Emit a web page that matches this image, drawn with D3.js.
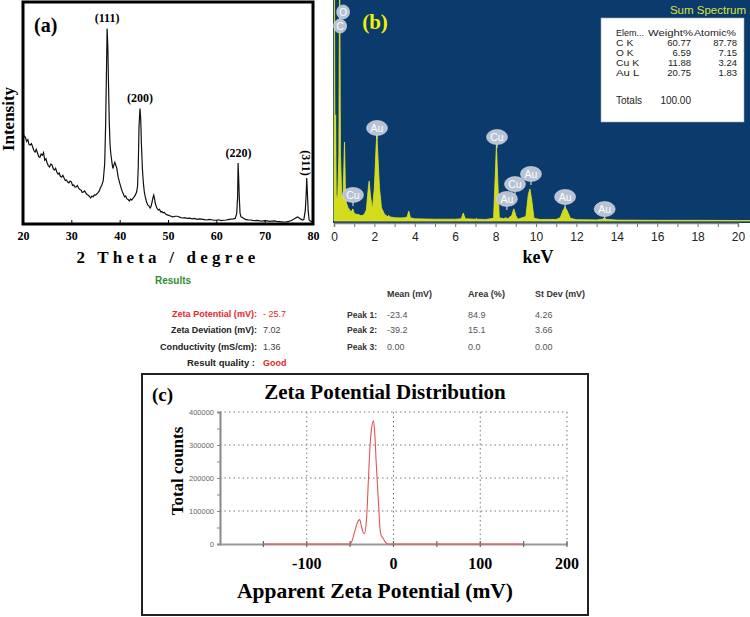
<!DOCTYPE html>
<html><head><meta charset="utf-8">
<script src="https://cdn.jsdelivr.net/npm/d3@7"></script>
<style>body{margin:0;background:#fff}svg{display:block}</style>
</head><body>
<script>
// ---------- Panel (a) XRD ----------
const xrdTicks = [20,30,40,50,60,70,80];
const xrdTheta = [20,20.25,20.5,20.75,21,21.25,21.5,21.75,22,22.25,22.5,22.75,23,23.25,23.5,23.75,24,24.25,24.5,24.75,25,25.25,25.5,25.75,26,26.25,26.5,26.75,27,27.25,27.5,27.75,28,28.25,28.5,28.75,29,29.25,29.5,29.75,30,30.25,30.5,30.75,31,31.25,31.5,31.75,32,32.25,32.5,32.75,33,33.25,33.5,33.75,34,34.25,34.5,34.75,35,35.25,35.5,35.75,36,36.3,36.6,36.9,37.1,37.25,37.4,37.55,37.7,37.85,38,38.15,38.3,38.45,38.6,38.8,39,39.2,39.4,39.7,40,40.25,40.5,40.75,41,41.25,41.5,41.75,42,42.25,42.5,42.75,43,43.25,43.5,43.7,43.85,44,44.2,44.35,44.5,44.7,44.9,45.1,45.3,45.55,45.8,46.05,46.3,46.5,46.7,46.9,47.05,47.2,47.4,47.7,48,48.25,48.5,48.75,49,49.25,49.5,49.75,50,50.5,51,51.5,52,52.5,53,53.5,54,54.5,55,55.5,56,56.5,57,57.5,58,58.5,59,59.5,60,60.5,61,61.5,62,62.5,63,63.5,63.9,64.2,64.4,64.5,64.6,64.75,64.9,65.1,65.4,65.7,66,66.5,67,67.5,68,68.5,69,69.5,70,70.5,71,71.5,72,72.5,73,73.5,74,74.5,75,75.5,76,76.4,76.8,77.1,77.4,77.8,78.1,78.4,78.6,78.7,78.8,79,79.2,79.5,79.8,80];
const xrdInt = [41.4,39.5,39.0,37.2,38.0,35.8,35.6,36.2,34.7,33.1,32.4,33.6,32.0,30.4,30.0,31.5,31.0,32.2,28.8,29.4,27.5,26.2,25.7,27.0,26.6,24.9,24.3,25.1,23.4,22.5,23.0,21.4,21.2,21.9,20.7,19.6,19.8,18.9,18.5,19.3,19.0,17.4,17.6,16.6,16.7,17.3,16.2,15.5,15.3,14.2,14.4,14.9,14.0,13.3,13.0,12.4,11.7,12.6,12.2,13.1,13.0,13.5,14.0,14.8,16.2,17.5,19.5,27.0,45.0,66.0,88.0,80.0,62.0,46.0,36.0,32.0,29.5,27.0,25.0,26.5,27.8,26.5,25.2,21.0,18.5,16.6,14.8,13.6,12.2,12.6,11.3,11.0,10.4,11.2,10.8,11.6,12.2,13.1,14.4,17.0,26.0,43.7,52.0,47.5,36.0,25.0,18.5,14.5,12.2,10.0,8.6,8.2,7.2,8.0,9.9,12.0,13.0,11.5,9.0,7.2,6.3,6.6,5.4,5.6,5.0,5.2,4.5,4.2,4.0,3.6,3.2,3.5,3.5,3.0,2.7,2.9,2.5,2.6,2.3,2.5,2.1,2.3,2.2,2.0,1.8,2.1,1.9,1.7,1.7,1.9,1.5,1.7,1.8,2.0,2.2,2.3,2.5,4.5,12.0,27.5,22.0,12.0,5.0,3.2,2.9,2.5,2.1,1.9,1.8,1.6,1.5,1.6,1.4,1.3,1.5,1.4,1.2,1.3,1.4,1.2,1.1,1.0,0.9,1.0,1.2,1.6,2.1,2.7,3.2,2.8,2.3,1.8,2.0,6.0,14.0,20.7,16.0,6.0,1.8,1.3,1.0,0.7];
const xrdPeakLabels = ["(111)","(200)","(220)","(311)"];
const xrdPeakTheta = [37.4,44.2,64.6,78.7];
const xrdPeakLabelInt = [91,55,30,18];

// ---------- Panel (b) EDS ----------
const edsTicks = [0,2,4,6,8,10,12,14,16,18,20];
const edsKeV = [0,0.02,0.05,0.08,0.11,0.18,0.24,0.28,0.32,0.38,0.45,0.52,0.57,0.62,0.7,0.78,0.85,0.93,1.0,1.1,1.2,1.3,1.4,1.5,1.6,1.7,1.74,1.8,1.9,2.0,2.08,2.12,2.17,2.25,2.35,2.5,2.65,2.7,2.8,3.0,3.3,3.5,3.62,3.7,3.78,4.0,4.5,5.0,5.5,6.0,6.3,6.4,6.5,7.0,7.05,7.1,7.5,7.9,7.98,8.04,8.1,8.18,8.4,8.5,8.6,8.8,8.9,9.0,9.1,9.5,9.62,9.7,9.78,9.9,10.2,11.0,11.2,11.35,11.44,11.55,11.7,12.0,13.0,13.3,13.38,13.46,14,16,18,20.6];
const edsCounts = [0,1200,300,480,120,90,300,1200,300,120,110,357,130,80,60,50,40,55,35,30,30,25,25,30,50,150,181,120,50,150,330,398,300,150,60,30,20,25,18,15,14,15,18,45,15,10,9,8,8,8,10,36,10,8,12,8,7,12,200,345,200,15,10,15,10,25,55,25,8,20,120,145,100,12,7,7,15,50,63,45,12,6,5,8,14,8,4,3,3,2];
const badgeEl = ["O","C","Au","Cu","Cu","Au","Cu","Au","Au","Au"];
const badgeKeV = [0.45,0.3,2.13,8.07,0.94,8.56,8.96,9.75,11.44,13.4];
const badgeCounts = [946,882,421,380,118,100,167,213,109,54];
const tableHead = ["Elem...","Weight%","Atomic%"];
const tableElem = ["C K","O K","Cu K","Au L"];
const tableWeight = ["60.77","6.59","11.88","20.75"];
const tableAtomic = ["87.78","7.15","3.24","1.83"];
const tableTotal = ["Totals","100.00"];

// ---------- Results ----------
const resLabels = ["Zeta Potential (mV):","Zeta Deviation (mV):","Conductivity (mS/cm):","Result quality :"];
const resValues = ["- 25.7","7.02","1.36","Good"];
const peakHead = ["Mean (mV)","Area (%)","St Dev (mV)"];
const peakNames = ["Peak 1:","Peak 2:","Peak 3:"];
const peakMean = ["-23.4","-39.2","0.00"];
const peakArea = ["84.9","15.1","0.0"];
const peakSd = ["4.26","3.66","0.00"];

// ---------- Panel (c) Zeta ----------
const zetaTicks = [-100,0,100,200];
const zetaYTicks = [0,100000,200000,300000,400000];
const zetaMV = [-150,-50,-48,-45,-42,-39,-37,-35,-33.5,-31,-29,-27,-25.5,-23,-21.5,-20,-18.5,-17,-15.5,-14,-12,-10,-8,-6,150];
const zetaCounts = [0,0,8000,35000,62000,74000,55000,35000,32000,80000,190000,300000,345000,373000,330000,250000,180000,110000,45000,25000,18000,8000,2000,0,0];

const serif = "'Liberation Serif','Times New Roman',serif";
const sans = "'Liberation Sans',Arial,sans-serif";

const svg = d3.select("body").append("svg").attr("width",750).attr("height",617);

// ===== Panel (a) =====
{
  const x = d3.scaleLinear().domain([20,80]).range([23,313]);
  const y = d3.scaleLinear().domain([0,100]).range([224,2]);
  const g = svg.append("g");
  const data = xrdTheta.map((t,i)=>[t,xrdInt[i]]);
  g.append("path").datum(data)
    .attr("d", d3.line().x(d=>x(d[0])).y(d=>y(d[1])))
    .attr("fill","none").attr("stroke","#111").attr("stroke-width",1.2);
  g.append("rect").attr("x",23).attr("y",2).attr("width",290).attr("height",222)
    .attr("fill","none").attr("stroke","#000").attr("stroke-width",3);
  const ax = g.append("g").attr("transform","translate(0,224)")
    .call(d3.axisBottom(x).tickValues(xrdTicks).tickSize(-4).tickPadding(7).tickFormat(d3.format("d")));
  ax.select(".domain").remove();
  ax.selectAll("text").attr("font-family",serif).attr("font-weight","bold").attr("font-size",12).attr("fill","#000");
  g.append("text").attr("x",168).attr("y",263).attr("text-anchor","middle")
    .attr("font-family",serif).attr("font-weight","bold").attr("font-size",17).attr("letter-spacing",4.2)
    .text("2 Theta / degree");
  g.append("text").attr("transform","translate(14,119) rotate(-90)").attr("text-anchor","middle")
    .attr("font-family",serif).attr("font-weight","bold").attr("font-size",17).text("Intensity");
  g.append("text").attr("x",34).attr("y",32).attr("font-family",serif).attr("font-weight","bold")
    .attr("font-size",20).text("(a)");
  xrdPeakLabels.forEach((lab,i)=>{
    const t = g.append("text").attr("font-family",serif).attr("font-weight","bold").attr("font-size",12);
    if(i===3){
      t.attr("transform",`translate(${x(xrdPeakTheta[i])-5},${y(xrdPeakLabelInt[i])-21}) rotate(90)`)
       .attr("text-anchor","middle").text(lab);
    } else {
      t.attr("x",x(xrdPeakTheta[i])).attr("y",y(xrdPeakLabelInt[i])).attr("text-anchor","middle").text(lab);
    }
  });
}

// ===== Panel (b) =====
{
  const x = d3.scaleLinear().domain([0,20]).range([334,738]);
  const y = d3.scaleLinear().domain([0,1000]).range([221,0]);
  const g = svg.append("g");
  g.append("rect").attr("x",333).attr("y",0).attr("width",417).attr("height",223).attr("fill","#0b3a6d");
  svg.append("clipPath").attr("id","clipb").append("rect").attr("x",333).attr("y",0).attr("width",417).attr("height",223);
  const data = edsKeV.map((k,i)=>[k,edsCounts[i]]);
  g.append("path").datum(data).attr("clip-path","url(#clipb)")
    .attr("d", d3.area().x(d=>x(d[0])).y0(y(0)).y1(d=>y(d[1])))
    .attr("fill","#d2dc1c").attr("stroke","#dde62a").attr("stroke-width",0.8);
  const ax = g.append("g").attr("transform","translate(0,223)")
    .call(d3.axisBottom(x).tickValues(d3.range(0,21,1)).tickSize(4).tickFormat(d=>d%2===0?d:""));
  ax.select(".domain").attr("stroke","#888").attr("stroke-width",1.5);
  ax.selectAll(".tick line").attr("stroke","#777");
  ax.selectAll("text").attr("font-family",sans).attr("font-size",12).attr("fill","#222").attr("dy","0.9em");
  g.append("text").attr("x",538).attr("y",263).attr("text-anchor","middle").attr("font-family",serif)
    .attr("font-weight","bold").attr("font-size",18).text("keV");
  g.append("text").attr("x",375).attr("y",29).attr("text-anchor","middle").attr("font-family",serif)
    .attr("font-weight","bold").attr("font-size",21).attr("fill","#f2f200").text("(b)");
  g.append("text").attr("x",746).attr("y",14).attr("text-anchor","end").attr("font-family",sans)
    .attr("font-size",11.5).attr("fill","#dde23a").text("Sum Spectrum");
  // badges
  badgeEl.forEach((el,i)=>{
    const cx = x(badgeKeV[i]), cy = y(badgeCounts[i]);
    const small = el.length===1;
    if(!small) g.append("line").attr("x1",cx).attr("x2",cx).attr("y1",cy+6).attr("y2",cy+11)
      .attr("stroke","#c5cede").attr("stroke-width",1.2);
    g.append("ellipse").attr("cx",cx).attr("cy",cy).attr("rx",small?6.5:10.5).attr("ry",small?7:7.5)
      .attr("fill","#b7c2d3").attr("stroke","#d6dde8").attr("stroke-width",0.6);
    g.append("text").attr("x",cx).attr("y",cy+3.8).attr("text-anchor","middle").attr("font-family",sans)
      .attr("font-size",small?10:10.5).attr("fill","#fff").text(el);
  });
  // table
  const tg = g.append("g").attr("font-family",sans).attr("font-size",9).attr("fill","#222");
  tg.append("rect").attr("x",601).attr("y",18).attr("width",143).attr("height",104).attr("fill","#fff").attr("stroke","#9aa").attr("stroke-width",0.6);
  tg.append("text").attr("x",616).attr("y",36).attr("textLength",28).attr("lengthAdjust","spacingAndGlyphs").text(tableHead[0]);
  tg.append("text").attr("x",648).attr("y",36).attr("textLength",45).attr("lengthAdjust","spacingAndGlyphs").text(tableHead[1]);
  tg.append("text").attr("x",694).attr("y",36).attr("textLength",42).attr("lengthAdjust","spacingAndGlyphs").text(tableHead[2]);
  const rowY = [46,56,66,76];
  tableElem.forEach((e,i)=>{
    tg.append("text").attr("x",616).attr("y",rowY[i]).attr("textLength",e.length*5.8).attr("lengthAdjust","spacingAndGlyphs").text(e);
    tg.append("text").attr("x",691).attr("y",rowY[i]).attr("text-anchor","end").attr("font-size",9.5).text(tableWeight[i]);
    tg.append("text").attr("x",737).attr("y",rowY[i]).attr("text-anchor","end").attr("font-size",9.5).text(tableAtomic[i]);
  });
  tg.append("text").attr("x",616).attr("y",104).attr("font-size",10).text(tableTotal[0]);
  tg.append("text").attr("x",691).attr("y",104).attr("text-anchor","end").attr("font-size",10).text(tableTotal[1]);
}

// ===== Results =====
{
  const g = svg.append("g").attr("font-family",sans);
  g.append("text").attr("x",155).attr("y",284).attr("font-size",10).attr("font-weight","bold")
    .attr("fill","#2f8f2f").text("Results");
  const rowY = [317,333,350,366];
  const labW = [85,86,97,68];
  const right = [257,257,257,255];
  resLabels.forEach((l,i)=>{
    g.append("text").attr("x",right[i]-labW[i]).attr("y",rowY[i]).attr("font-size",9).attr("font-weight","bold")
      .attr("fill",i===0?"#e8272a":"#222").attr("textLength",labW[i]).attr("lengthAdjust","spacingAndGlyphs").text(l);
    g.append("text").attr("x",263).attr("y",rowY[i]).attr("font-size",9)
      .attr("font-weight",i===3?"bold":"normal")
      .attr("fill",(i===0||i===3)?"#e8272a":"#444").text(resValues[i]);
  });
  const colX = [387,468,535];
  const headW = [45,37,50];
  peakHead.forEach((h,i)=>{
    g.append("text").attr("x",colX[i]).attr("y",297).attr("font-size",9).attr("font-weight","bold").attr("fill","#333")
      .attr("textLength",headW[i]).attr("lengthAdjust","spacingAndGlyphs").text(h);
  });
  peakNames.forEach((p,i)=>{
    const yy = [318,333,350][i];
    g.append("text").attr("x",347).attr("y",yy).attr("font-size",9).attr("font-weight","bold").attr("fill","#333")
      .attr("textLength",30).attr("lengthAdjust","spacingAndGlyphs").text(p);
    g.append("text").attr("x",colX[0]).attr("y",yy).attr("font-size",9).attr("fill","#555").text(peakMean[i]);
    g.append("text").attr("x",colX[1]).attr("y",yy).attr("font-size",9).attr("fill","#555").text(peakArea[i]);
    g.append("text").attr("x",colX[2]).attr("y",yy).attr("font-size",9).attr("fill","#555").text(peakSd[i]);
  });
}

// ===== Panel (c) =====
{
  const x = d3.scaleLinear().domain([-200,200]).range([220,567]);
  const y = d3.scaleLinear().domain([0,400000]).range([544,412]);
  const g = svg.append("g");
  g.append("rect").attr("x",142).attr("y",374).attr("width",446).attr("height",241)
    .attr("fill","none").attr("stroke","#222").attr("stroke-width",2);
  // grid
  zetaYTicks.slice(1).forEach(v=>{
    g.append("line").attr("x1",x(-200)).attr("x2",x(200)).attr("y1",y(v)).attr("y2",y(v))
      .attr("stroke","#777").attr("stroke-width",1).attr("stroke-dasharray","1.5,3");
  });
  zetaTicks.forEach(v=>{
    g.append("line").attr("x1",x(v)).attr("x2",x(v)).attr("y1",y(0)).attr("y2",y(400000))
      .attr("stroke","#777").attr("stroke-width",1).attr("stroke-dasharray","1.5,3");
  });
  // axes
  const ay = g.append("g").attr("transform",`translate(${x(-200)},0)`)
    .call(d3.axisLeft(y).tickValues(d3.range(0,400001,50000)).tickSize(3).tickFormat(d=>zetaYTicks.includes(d)?d:""));
  ay.select(".domain").attr("stroke","#888").attr("stroke-width",2);
  ay.selectAll(".tick line").attr("stroke","#888");
  ay.selectAll("text").attr("font-family",sans).attr("font-size",7.5).attr("fill","#666");
  const axb = g.append("g").attr("transform",`translate(0,${y(0)})`)
    .call(d3.axisBottom(x).tickValues(d3.range(-150,201,50)).tickSize(0).tickFormat(""));
  axb.select(".domain").attr("stroke","#999").attr("stroke-width",2);
  d3.range(-150,201,50).forEach(v=>{
    g.append("line").attr("x1",x(v)).attr("x2",x(v)).attr("y1",y(0)-3).attr("y2",y(0)+3).attr("stroke","#666").attr("stroke-width",1.2);
  });
  zetaTicks.forEach(v=>{
    g.append("text").attr("x",x(v)).attr("y",569).attr("text-anchor","middle").attr("font-family",serif)
      .attr("font-weight","bold").attr("font-size",16).text(v);
  });
  const data = zetaMV.map((m,i)=>[m,zetaCounts[i]]);
  g.append("path").datum(data).attr("d",d3.line().x(d=>x(d[0])).y(d=>y(d[1])).curve(d3.curveMonotoneX))
    .attr("fill","none").attr("stroke","#e0565a").attr("stroke-width",1.1);
  g.append("text").attr("x",385).attr("y",399).attr("text-anchor","middle").attr("font-family",serif)
    .attr("font-weight","bold").attr("font-size",21).text("Zeta Potential Distribution");
  g.append("text").attr("x",152).attr("y",401).attr("font-family",serif).attr("font-weight","bold")
    .attr("font-size",19).text("(c)");
  g.append("text").attr("transform","translate(183,471) rotate(-90)").attr("text-anchor","middle")
    .attr("font-family",serif).attr("font-weight","bold").attr("font-size",17).text("Total  counts");
  g.append("text").attr("x",375).attr("y",598).attr("text-anchor","middle").attr("font-family",serif)
    .attr("font-weight","bold").attr("font-size",21.5).text("Apparent Zeta Potential (mV)");
}
</script>
</body></html>
